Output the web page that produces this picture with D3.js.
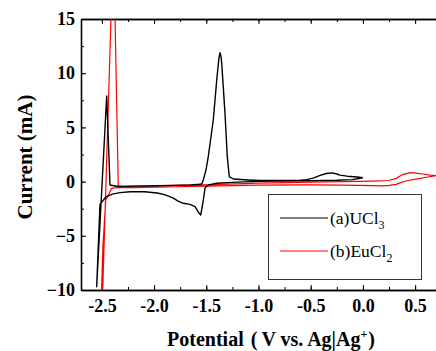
<!DOCTYPE html>
<html>
<head>
<meta charset="utf-8">
<script src="https://d3js.org/d3.v7.min.js"></script>
<style>
  body { margin: 0; background: #fff; }
  text { font-family: "Liberation Serif", "Times New Roman", serif; }
</style>
</head>
<body>
<script>
// UCl3 curve, potential (V) and current (mA), in sweep order
var uclV = [0.0, -0.1, -0.25, -0.5, -0.8, -1.0, -1.2, -1.4, -1.48, -1.512, -1.53, -1.553, -1.57, -1.608, -1.656, -1.72, -1.77, -1.82, -1.9, -1.97, -2.09, -2.23, -2.326, -2.40, -2.46, -2.49, -2.518, -2.55,
  -2.454, -2.422, -2.346, -2.2, -2.0, -1.8, -1.65, -1.57, -1.544, -1.529, -1.503, -1.481, -1.433, -1.40, -1.38, -1.369, -1.36, -1.352, -1.321, -1.299, -1.28, -1.241, -1.1, -0.985, -0.8, -0.6, -0.538, -0.47, -0.41, -0.35, -0.296, -0.25, -0.22, -0.15, -0.056, 0.0];
var uclI = [0.36, 0.18, 0.12, 0.08, 0.05, 0.02, -0.05, -0.15, -0.3, -0.6, -1.8, -3.08, -2.9, -2.3, -2.1, -2.0, -1.8, -1.5, -1.2, -1.05, -0.93, -0.93, -1.02, -1.15, -1.4, -1.76, -2.1, -9.7,
  7.9, -0.31, -0.45, -0.42, -0.4, -0.35, -0.3, -0.25, -0.22, 0.15, 1.07, 2.3, 5.68, 9.38, 11.3, 11.9, 11.6, 10.9, 6.3, 2.3, 0.45, 0.24, 0.15, 0.1, 0.1, 0.12, 0.18, 0.35, 0.58, 0.75, 0.8, 0.7, 0.6, 0.5, 0.42, 0.36];

// EuCl2 curve
var euV = [0.70, 0.61, 0.52, 0.42, 0.36, 0.32, 0.25, 0.196, 0.1, -0.2, -0.5, -1.0, -1.5, -2.0, -2.2, -2.33, -2.38, -2.406, -2.438, -2.463, -2.49, -2.508,
  -2.492, -2.413, -2.395, -2.374, -2.343, -2.3, -2.0, -1.5, -1.0, -0.5, -0.2, 0.1, 0.25, 0.32, 0.38, 0.452, 0.52, 0.576, 0.64, 0.70];
var euI = [0.55, 0.4, 0.25, 0.08, -0.1, -0.25, -0.35, -0.4, -0.38, -0.32, -0.3, -0.32, -0.42, -0.52, -0.55, -0.55, -0.58, -0.62, -1.24, -1.7, -6, -11.5,
  -10, 15, 18.5, 15, -0.4, -0.45, -0.38, -0.3, -0.14, -0.05, 0.0, 0.05, 0.1, 0.3, 0.65, 0.82, 0.75, 0.7, 0.6, 0.55];

var xMajor = [-2.5, -2.0, -1.5, -1.0, -0.5, 0.0, 0.5];
var yMajor = [-10, -5, 0, 5, 10, 15];
var legendNames = ["(a)UCl", "(b)EuCl"];
var legendSubs = ["3", "2"];
var colors = ["#000000", "#ff0000"];

var W = 436, H = 351;
var mLeft = 81, mTop = 19, mRight = 436, mBottom = 290;

var svg = d3.select("body").append("svg")
  .attr("width", W).attr("height", H);

var x = d3.scaleLinear().domain([-2.7, 0.7]).range([mLeft, mRight]);
var y = d3.scaleLinear().domain([-10, 15]).range([mBottom, mTop]);

var xMinor = d3.range(-2.75, 0.76, 0.25).filter(function (d) { return d >= -2.7 && d <= 0.7; });
var yMinor = d3.range(-10, 15.1, 2.5);

function fmtX(d) { return d.toFixed(1).replace("-0.0", "0.0"); }

// bottom axis
svg.append("g").attr("transform", "translate(0," + mBottom + ")")
  .call(d3.axisBottom(x).tickValues(xMajor).tickFormat(fmtX).tickSizeInner(-5).tickSizeOuter(0).tickPadding(9));
svg.append("g").attr("transform", "translate(0," + mBottom + ")")
  .call(d3.axisBottom(x).tickValues(xMinor).tickFormat("").tickSizeInner(-3).tickSizeOuter(0));
// top axis
svg.append("g").attr("transform", "translate(0," + mTop + ")")
  .call(d3.axisTop(x).tickValues(xMajor).tickFormat("").tickSizeInner(-5).tickSizeOuter(0));
svg.append("g").attr("transform", "translate(0," + mTop + ")")
  .call(d3.axisTop(x).tickValues(xMinor).tickFormat("").tickSizeInner(-3).tickSizeOuter(0));
// left axis
svg.append("g").attr("transform", "translate(" + mLeft + ",0)")
  .call(d3.axisLeft(y).tickValues(yMajor).tickSizeInner(-5).tickSizeOuter(0).tickPadding(6));
svg.append("g").attr("transform", "translate(" + mLeft + ",0)")
  .call(d3.axisLeft(y).tickValues(yMinor).tickFormat("").tickSizeInner(-3).tickSizeOuter(0));

svg.selectAll(".domain").attr("stroke", "#000").attr("stroke-width", 1.3);
svg.selectAll(".tick line").attr("stroke", "#000").attr("stroke-width", 1);
svg.selectAll(".tick text")
  .attr("font-family", "Liberation Serif")
  .attr("font-weight", "bold")
  .attr("font-size", 18)
  .attr("fill", "#000");

// curves
svg.append("clipPath").attr("id", "clip")
  .append("rect").attr("x", mLeft).attr("y", mTop)
  .attr("width", mRight - mLeft).attr("height", mBottom - mTop);

var line = d3.line()
  .x(function (d) { return x(d[0]); })
  .y(function (d) { return y(d[1]); });

var ucl = d3.zip(uclV, uclI);
var eu = d3.zip(euV, euI);

var plot = svg.append("g").attr("clip-path", "url(#clip)");
plot.append("path").datum(eu)
  .attr("d", line).attr("fill", "none")
  .attr("stroke", colors[1]).attr("stroke-width", 1.2);
plot.append("path").datum(ucl)
  .attr("d", line).attr("fill", "none")
  .attr("stroke", colors[0]).attr("stroke-width", 1.4)
  .attr("stroke-linejoin", "round");

// legend
var lg = svg.append("g");
lg.append("rect")
  .attr("x", 268.5).attr("y", 194.5).attr("width", 153).attr("height", 85)
  .attr("fill", "#fff").attr("stroke", "#333").attr("stroke-width", 1);
legendNames.forEach(function (name, i) {
  var ly = 218 + i * 33;
  lg.append("line")
    .attr("x1", 280).attr("x2", 328).attr("y1", ly).attr("y2", ly)
    .attr("stroke", colors[i]).attr("stroke-width", 1.2);
  var t = lg.append("text")
    .attr("x", 330).attr("y", ly + 6)
    .attr("font-size", 17.5).attr("fill", "#000");
  t.append("tspan").text(name);
  t.append("tspan").attr("dy", 5).attr("font-size", 12).text(legendSubs[i]);
});

// axis titles
svg.append("text")
  .attr("transform", "translate(32,157) rotate(-90)")
  .attr("text-anchor", "middle")
  .attr("font-weight", "bold").attr("font-size", 21)
  .text("Current (mA)");

var xt = svg.append("text")
  .attr("x", 271).attr("y", 346)
  .attr("text-anchor", "middle")
  .attr("font-weight", "bold").attr("font-size", 20);
xt.append("tspan").text("Potential");
xt.append("tspan").attr("dx", 7).text("(");
xt.append("tspan").attr("dx", 4).text("V vs. Ag|Ag");
xt.append("tspan").attr("dy", -8).attr("font-size", 12).text("+");
xt.append("tspan").attr("dy", 8).attr("dx", 1).text(")");
</script>
</body>
</html>
